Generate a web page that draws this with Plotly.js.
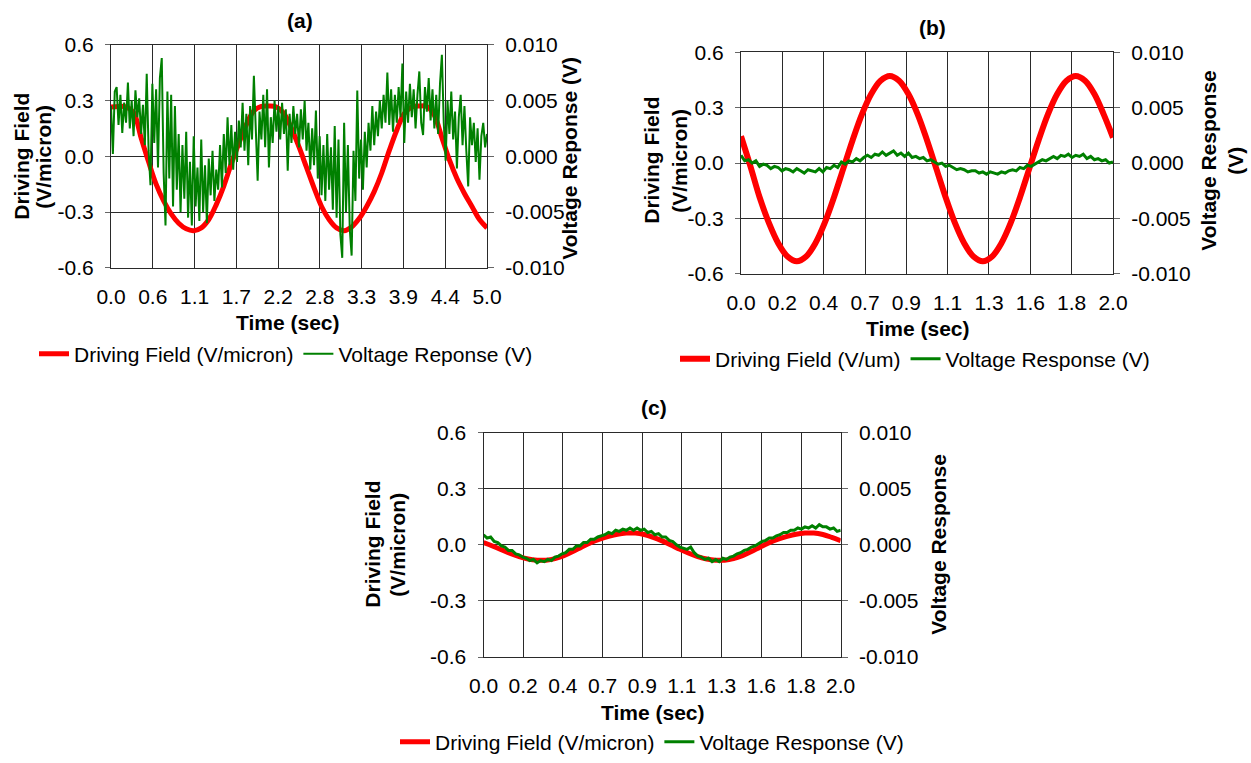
<!DOCTYPE html>
<html>
<head>
<meta charset="utf-8">
<script src="https://cdn.plot.ly/plotly-3.0.1.min.js"></script>
<style>
html,body{margin:0;padding:0;background:#ffffff;}
#chart{width:1251px;height:763px;}
</style>
</head>
<body>
<div id="chart"></div>
<script>
// ---------------- DATA ----------------
// Tick labels
const timeTickValsA = [0, 0.5556, 1.1111, 1.6667, 2.2222, 2.7778, 3.3333, 3.8889, 4.4444, 5.0];
const timeTickTextA = ['0.0','0.6','1.1','1.7','2.2','2.8','3.3','3.9','4.4','5.0'];
const timeTickValsBC = [0, 0.2222, 0.4444, 0.6667, 0.8889, 1.1111, 1.3333, 1.5556, 1.7778, 2.0];
const timeTickTextBC = ['0.0','0.2','0.4','0.7','0.9','1.1','1.3','1.6','1.8','2.0'];
const fieldTickVals = [-0.6, -0.3, 0, 0.3, 0.6];
const fieldTickText = ['-0.6','-0.3','0.0','0.3','0.6'];
const voltTickVals = [-0.01, -0.005, 0, 0.005, 0.01];
const voltTickText = ['-0.010','-0.005','0.000','0.005','0.010'];

// Panel (a): time step 0.1 s for field, 0.025 s for voltage
const fieldA = [
  0.265, 0.268, 0.265, 0.235, 0.10, -0.03, -0.15, -0.24, -0.31, -0.36,
  -0.39, -0.40, -0.385, -0.34, -0.26, -0.16, -0.04, 0.07, 0.17, 0.245,
  0.268, 0.27, 0.265, 0.23, 0.15, 0.05, -0.06, -0.17, -0.27, -0.34,
  -0.385, -0.40, -0.38, -0.335, -0.27, -0.19, -0.09, 0.03, 0.14, 0.23,
  0.265, 0.27, 0.268, 0.22, 0.10, -0.02, -0.12, -0.20, -0.27, -0.34,
  -0.385
];
const voltageA = [
  0.0045, 0.0002, 0.0058, 0.0062, 0.0028, 0.0055, 0.0021, 0.0048, 0.0030, 0.0066,
  0.0025, 0.0050, 0.0018, 0.0059, 0.0035, 0.0052, 0.0020, 0.0046, 0.0010, 0.0074,
  0.0005, -0.0026, 0.0065, 0.0012, 0.0060, -0.0010, 0.0070, 0.0088, -0.0015, -0.0062,
  0.0058, -0.0020, 0.0055, -0.0045, 0.0045, -0.0030, 0.0020, -0.0050, 0.0010, -0.0038,
  0.0022, -0.0055, -0.0005, -0.0062, 0.0018, -0.0045, -0.0010, -0.0058, 0.0015, -0.0050,
  -0.0008, -0.0060, -0.0002, -0.0035, 0.0005, -0.0040, -0.0012, -0.0030, 0.0010, -0.0028,
  0.0020, -0.0015, 0.0035, -0.0008, 0.0028, -0.0012, 0.0022, -0.0005, 0.0032, 0.0008,
  0.0048, 0.0005, 0.0038, -0.0008, 0.0045, 0.0015, 0.0072, 0.0020, -0.0022, 0.0040,
  0.0015, 0.0055, 0.0008, 0.0060, -0.0010, 0.0035, 0.0012, 0.0050, 0.0022, 0.0045,
  0.0015, 0.0048, 0.0020, 0.0042, -0.0013, 0.0038, 0.0012, 0.0045, 0.0020, 0.0038,
  0.0008, 0.0042, 0.0015, 0.0050, 0.0005, 0.0030, -0.0012, 0.0025, -0.0008, 0.0041,
  -0.0020, 0.0018, -0.0035, 0.0010, -0.0040, 0.0020, -0.0030, 0.0008, -0.0048, 0.0027,
  -0.0055, 0.0015, -0.0070, -0.0091, 0.0030, -0.0050, 0.0010, -0.0065, -0.0089, 0.0005,
  -0.0040, 0.0059, -0.0020, 0.0015, -0.0030, 0.0022, -0.0010, 0.0030, 0.0005, 0.0045,
  0.0010, 0.0040, 0.0018, 0.0050, 0.0025, 0.0055, 0.0030, 0.0075, 0.0028, 0.0060,
  0.0022, 0.0055, 0.0030, 0.0062, 0.0035, 0.0083, 0.0012, 0.0058, 0.0030, 0.0065,
  0.0035, 0.0060, 0.0025, 0.0055, 0.0076, 0.0030, 0.0019, 0.0062, 0.0040, 0.0070,
  0.0032, 0.0060, 0.0025, 0.0055, 0.0020, 0.0065, 0.0091, 0.0030, -0.0004, 0.0050,
  0.0020, 0.0058, 0.0015, 0.0040, -0.0011, 0.0035, 0.0055, 0.0010, 0.0045, 0.0005,
  -0.0027, 0.0035, 0.0010, 0.0030, -0.0005, 0.0025, -0.0021, 0.0018, 0.0030, 0.0008,
  0.0020
];

// Panel (b): field step 0.05 s, voltage step 0.02 s
const fieldB = [
  0.145, -0.015, -0.185, -0.324, -0.434, -0.506, -0.532, -0.506, -0.434, -0.324,
  -0.185, -0.03, 0.124, 0.264, 0.374, 0.446, 0.472, 0.446, 0.374, 0.264,
  0.124, -0.03, -0.185, -0.324, -0.434, -0.506, -0.532, -0.506, -0.434, -0.324,
  -0.185, -0.03, 0.124, 0.264, 0.374, 0.446, 0.472, 0.446, 0.374, 0.264,
  0.138
];
const voltageB = [
  0.0007, 0.0002, 0.0003, 0.0000, 0.0002, -0.0003, -0.0001, -0.0002, -0.0005, -0.0003,
  -0.0004, -0.0007, -0.0005, -0.0006, -0.0008, -0.0005, -0.0007, -0.0009, -0.0006, -0.0007,
  -0.0008, -0.0005, -0.0008, -0.0004, -0.0005, -0.0002, -0.0004, 0.0001, -0.0001, 0.0002,
  0.0001, 0.0004, 0.0002, 0.0005, 0.0007, 0.0005, 0.0008, 0.0007, 0.0010, 0.0007,
  0.0009, 0.0011, 0.0007, 0.0009, 0.0006, 0.0009, 0.0005, 0.0006, 0.0004, 0.0005,
  0.0002, 0.0003, 0.0001, -0.0001, 0.0000, -0.0003, -0.0002, -0.0004, -0.0006, -0.0005,
  -0.0006, -0.0008, -0.0007, -0.0007, -0.0009, -0.0008, -0.0010, -0.0008, -0.0009, -0.0010,
  -0.0008, -0.0009, -0.0007, -0.0006, -0.0007, -0.0004, -0.0005, -0.0002, -0.0003, -0.0001,
  0.0001, 0.0003, 0.0002, 0.0004, 0.0006, 0.0004, 0.0007, 0.0006, 0.0008, 0.0005,
  0.0007, 0.0006, 0.0008, 0.0004, 0.0006, 0.0003, 0.0004, 0.0002, 0.0003, 0.0000,
  0.0001
];

// Panel (c): field step 0.05 s, voltage step 0.02 s
const fieldC = [
  0.012, -0.006, -0.026, -0.046, -0.063, -0.076, -0.082, -0.082, -0.074, -0.058,
  -0.036, -0.011, 0.012, 0.030, 0.045, 0.057, 0.063, 0.063, 0.055, 0.040,
  0.021, -0.001, -0.024, -0.045, -0.063, -0.076, -0.082, -0.082, -0.074, -0.058,
  -0.036, -0.011, 0.012, 0.030, 0.045, 0.057, 0.063, 0.063, 0.055, 0.040,
  0.022
];
const voltageC = [
  0.0009, 0.0006, 0.0007, 0.0003, 0.0002, -0.0001, -0.0002, -0.0005, -0.0005, -0.0008,
  -0.0009, -0.0011, -0.0012, -0.0014, -0.0013, -0.0016, -0.0014, -0.0015, -0.0013, -0.0014,
  -0.0011, -0.0010, -0.0008, -0.0007, -0.0004, -0.0004, -0.0001, -0.0001, 0.0002, 0.0002,
  0.0005, 0.0005, 0.0007, 0.0008, 0.0009, 0.0011, 0.0010, 0.0013, 0.0012, 0.0014,
  0.0013, 0.0015, 0.0013, 0.0015, 0.0013, 0.0014, 0.0011, 0.0012, 0.0009, 0.0010,
  0.0007, 0.0007, 0.0004, 0.0003, 0.0000, -0.0002, -0.0003, -0.0004, -0.0002, -0.0007,
  -0.0010, -0.0011, -0.0013, -0.0012, -0.0015, -0.0013, -0.0015, -0.0012, -0.0013, -0.0011,
  -0.0010, -0.0008, -0.0007, -0.0005, -0.0004, -0.0002, -0.0001, 0.0001, 0.0003, 0.0004,
  0.0006, 0.0006, 0.0008, 0.0009, 0.0011, 0.0011, 0.0013, 0.0013, 0.0015, 0.0014,
  0.0016, 0.0015, 0.0017, 0.0015, 0.0018, 0.0016, 0.0016, 0.0014, 0.0015, 0.0012,
  0.0013
];

// ---------------- LAYOUT HELPERS ----------------
const W = 1251, H = 763;
const FONT = 'Liberation Sans, Arial, Helvetica, sans-serif';
const FS = 21;
const px = v => v / W;
const py = v => 1 - v / H;
const RED = '#ff0000', GREEN = '#008000', GRID = '#2a2a2a';

function xAxis(domain, anchor, range, vals, text) {
  return {
    domain: domain, anchor: anchor, range: range, type: 'linear',
    tickmode: 'array', tickvals: vals, ticktext: text,
    showgrid: true, gridcolor: GRID, gridwidth: 1, zeroline: false,
    showline: true, linecolor: GRID, linewidth: 1, mirror: true,
    ticks: '', ticklabelstandoff: 10,
    tickfont: {family: FONT, size: FS, color: '#000'}
  };
}
function yLeft(domain, anchor) {
  return {
    domain: domain, anchor: anchor, range: [-0.6, 0.6],
    tickmode: 'array', tickvals: fieldTickVals, ticktext: fieldTickText,
    showgrid: true, gridcolor: GRID, gridwidth: 1, zeroline: false,
    showline: true, linecolor: GRID, linewidth: 1, mirror: true,
    ticks: 'outside', ticklen: 5, tickcolor: '#666', ticklabelstandoff: 7,
    tickfont: {family: FONT, size: FS, color: '#000'}
  };
}
function yRight(overlay, anchor) {
  return {
    overlaying: overlay, anchor: anchor, side: 'right', range: [-0.01, 0.01],
    tickmode: 'array', tickvals: voltTickVals, ticktext: voltTickText,
    showgrid: false, zeroline: false, showline: false,
    ticks: 'outside', ticklen: 6, tickcolor: '#666', ticklabelstandoff: 7,
    tickfont: {family: FONT, size: FS, color: '#000'}
  };
}

const data = [
  {type: 'scatter', mode: 'lines', x0: 0, dx: 0.1, y: fieldA, xaxis: 'x', yaxis: 'y',
   line: {color: RED, width: 5, shape: 'spline', smoothing: 1}, name: 'Driving Field (V/micron)', legend: 'legend'},
  {type: 'scatter', mode: 'lines', x0: 0, dx: 0.025, y: voltageA, xaxis: 'x', yaxis: 'y2',
   line: {color: GREEN, width: 2}, name: 'Voltage Reponse (V)', legend: 'legend'},
  {type: 'scatter', mode: 'lines', x0: 0, dx: 0.05, y: fieldB, xaxis: 'x2', yaxis: 'y3',
   line: {color: RED, width: 6, shape: 'spline', smoothing: 1}, name: 'Driving Field (V/um)', legend: 'legend2'},
  {type: 'scatter', mode: 'lines', x0: 0, dx: 0.02, y: voltageB, xaxis: 'x2', yaxis: 'y4',
   line: {color: GREEN, width: 3}, name: 'Voltage Response (V)', legend: 'legend2'},
  {type: 'scatter', mode: 'lines', x0: 0, dx: 0.05, y: fieldC, xaxis: 'x3', yaxis: 'y5',
   line: {color: RED, width: 5, shape: 'spline', smoothing: 1}, name: 'Driving Field (V/micron)', legend: 'legend3'},
  {type: 'scatter', mode: 'lines', x0: 0, dx: 0.02, y: voltageC, xaxis: 'x3', yaxis: 'y6',
   line: {color: GREEN, width: 3}, name: 'Voltage Response (V)', legend: 'legend3'}
];

function ann(text, x, y, angle, bold) {
  return {
    text: bold ? '<b>' + text + '</b>' : text,
    xref: 'paper', yref: 'paper', x: px(x), y: py(y),
    xanchor: 'center', yanchor: 'middle', showarrow: false,
    textangle: angle || 0,
    font: {family: FONT, size: FS, color: '#000'}
  };
}

function legendCfg(cx, cy) {
  return {
    orientation: 'h', x: px(cx), xanchor: 'center', y: py(cy), yanchor: 'middle',
    bgcolor: 'rgba(0,0,0,0)', borderwidth: 0,
    font: {family: FONT, size: FS, color: '#000'}
  };
}

const layout = {
  width: W, height: H, autosize: false,
  margin: {l: 0, r: 0, t: 0, b: 0, pad: 0},
  paper_bgcolor: '#ffffff', plot_bgcolor: '#ffffff',
  showlegend: true,
  xaxis: xAxis([px(111), px(487)], 'y', [0, 5], timeTickValsA, timeTickTextA),
  yaxis: yLeft([py(270), py(45)], 'x'),
  yaxis2: yRight('y', 'x'),
  xaxis2: xAxis([px(741), px(1113)], 'y3', [0, 2], timeTickValsBC, timeTickTextBC),
  yaxis3: yLeft([py(276), py(52.7)], 'x2'),
  yaxis4: yRight('y3', 'x2'),
  xaxis3: xAxis([px(483.5), px(840.7)], 'y5', [0, 2], timeTickValsBC, timeTickTextBC),
  yaxis5: yLeft([py(662.3), py(436)], 'x3'),
  yaxis6: yRight('y5', 'x3'),
  legend: legendCfg(286, 357),
  legend2: legendCfg(915, 362),
  legend3: legendCfg(652, 748),
  annotations: [
    ann('(a)', 300, 21, 0, true),
    ann('Driving Field', 22, 158, -90, true),
    ann('(V/micron)', 44, 158, -90, true),
    ann('Voltage Reponse (V)', 570, 160, -90, true),
    ann('Time (sec)', 288, 325, 0, true),

    ann('(b)', 932, 28, 0, true),
    ann('Driving Field', 652, 162, -90, true),
    ann('(V/micron)', 680, 162, -90, true),
    ann('Voltage Response', 1209, 162, -90, true),
    ann('(V)', 1236, 162, -90, true),
    ann('Time (sec)', 918, 331, 0, true),

    ann('(c)', 654, 411, 0, true),
    ann('Driving Field', 373, 549, -90, true),
    ann('(V/micron)', 398, 549, -90, true),
    ann('Voltage Response', 939, 549, -90, true),
    ann('Time (sec)', 653, 718, 0, true)
  ]
};

Plotly.newPlot('chart', data, layout, {displayModeBar: false, staticPlot: true});
</script>
</body>
</html>
